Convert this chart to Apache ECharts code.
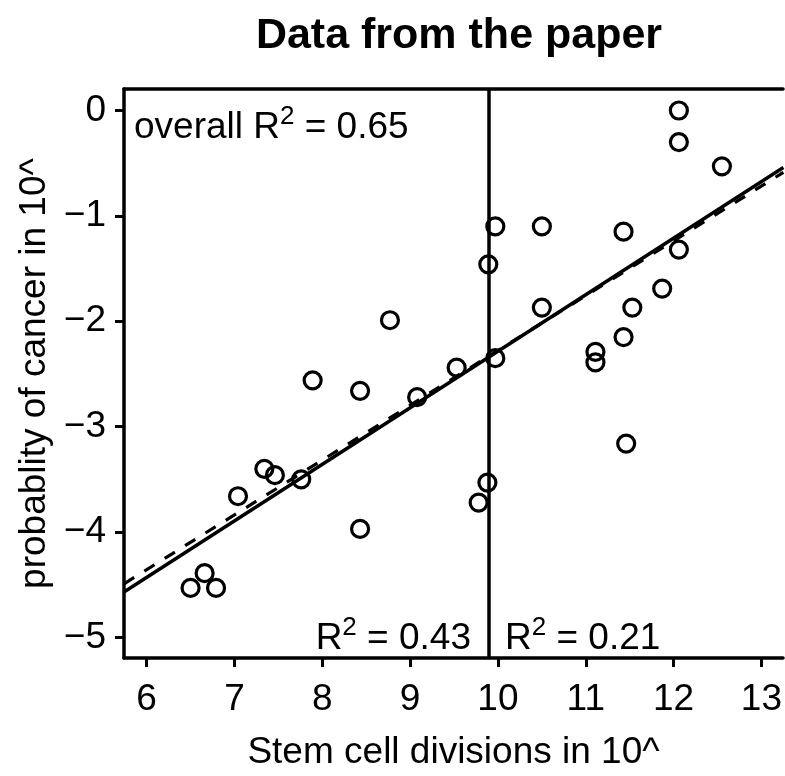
<!DOCTYPE html>
<html>
<head>
<meta charset="utf-8">
<title>Data from the paper</title>
<script src="https://cdn.jsdelivr.net/npm/echarts@6/dist/echarts.min.js"></script>
<style>
  html, body { margin: 0; padding: 0; background: #fff; }
  #chart { width: 785px; height: 776px; }
</style>
</head>
<body>
<div id="chart"></div>
<script>
// stem cell divisions (log10) and lifetime cancer risk (log10)
var divisions = [12.06, 12.06, 12.55, 9.97, 10.50, 11.43, 9.89, 12.06, 11.87, 11.53, 10.50,
  8.77, 11.43, 11.11, 11.11, 9.97, 9.53, 7.89, 8.43, 9.08, 7.34, 7.46, 7.76, 7.04, 8.43,
  11.46, 9.88, 9.78, 6.66, 6.50, 6.79];
var risk = [0.00, -0.30, -0.53, -1.10, -1.10, -1.15, -1.46, -1.32, -1.69, -1.87, -1.87,
  -1.99, -2.15, -2.29, -2.39, -2.35, -2.44, -2.56, -2.66, -2.72, -3.40, -3.46, -3.50, -3.66, -3.97,
  -3.16, -3.53, -3.72, -4.39, -4.53, -4.53];

// regression lines (end points at the plot edges)
var fitSolid = [[5.742, -4.569], [13.25, -0.541]];
var fitDashed = [[5.742, -4.491], [13.25, -0.587]];
var splitAt = 9.89;

var xTicks = [6, 7, 8, 9, 10, 11, 12, 13];
var yTicks = [-5, -4, -3, -2, -1, 0];
var r2Labels = ['0.65', '0.43', '0.21'];

var FONT = 'Liberation Sans, Arial, Helvetica, sans-serif';

var points = divisions.map(function (x, i) { return [x, risk[i]]; });

function minusSign(v) {
  return String(v).replace('-', '\u2212');
}

var r2Rich = {
  sup: { fontSize: 26, fontFamily: FONT, verticalAlign: 'top', lineHeight: 24, color: '#000' }
};

var chart = echarts.init(document.getElementById('chart'));

var option = {
  animation: false,
  backgroundColor: '#fff',
  title: {
    text: 'Data from the paper',
    left: 454,
    textAlign: 'center',
    top: 10,
    textStyle: { fontFamily: FONT, fontSize: 43, fontWeight: 'bold', color: '#000' }
  },
  grid: { left: 124, top: 89, width: 660, height: 575, show: false },
  xAxis: [
    {
      type: 'value',
      min: 5.742,
      max: 13.246,
      position: 'bottom',
      name: 'Stem cell divisions in 10^',
      nameLocation: 'middle',
      nameGap: 76,
      nameTextStyle: { fontFamily: FONT, fontSize: 37, color: '#000' },
      splitLine: { show: false },
      axisLine: { onZero: false, lineStyle: { color: '#000', width: 3.5 } },
      axisTick: { customValues: xTicks, length: 9, lineStyle: { color: '#000', width: 3 } },
      axisLabel: {
        customValues: xTicks,
        margin: 23,
        fontFamily: FONT, fontSize: 37, color: '#000'
      }
    },
    {
      type: 'value',
      min: 5.742,
      max: 13.246,
      position: 'top',
      splitLine: { show: false },
      axisLine: { onZero: false, lineStyle: { color: '#000', width: 3.5 } },
      axisTick: { show: false },
      axisLabel: { show: false }
    }
  ],
  yAxis: {
    type: 'value',
    min: -5.195,
    max: 0.204,
    name: 'probablity of cancer in 10^',
    nameLocation: 'middle',
    nameGap: 68,
    nameTextStyle: { fontFamily: FONT, fontSize: 37, color: '#000' },
    splitLine: { show: false },
    axisLine: { show: true, onZero: false, lineStyle: { color: '#000', width: 3.5 } },
    axisTick: { customValues: yTicks, length: 9, lineStyle: { color: '#000', width: 3 } },
    axisLabel: {
      customValues: yTicks,
      margin: 18,
      fontFamily: FONT, fontSize: 37, color: '#000',
      formatter: function (v) { return minusSign(v); }
    }
  },
  series: [
    {
      type: 'scatter',
      data: points,
      symbol: 'circle',
      symbolSize: 17,
      z: 2,
      itemStyle: { color: 'rgba(0,0,0,0)', borderColor: '#000', borderWidth: 3.2, opacity: 1 },
      markLine: {
        silent: true,
        symbol: 'none',
        label: { show: false },
        lineStyle: { color: '#000', width: 3.5, type: 'solid', opacity: 1 },
        data: [{ xAxis: splitAt }]
      }
    },
    {
      type: 'line',
      data: fitDashed,
      symbol: 'none',
      z: 3,
      lineStyle: { color: '#000', width: 3.2, type: [12, 12] }
    },
    {
      type: 'line',
      data: fitSolid,
      symbol: 'none',
      z: 4,
      lineStyle: { color: '#000', width: 3.5 }
    }
  ],
  graphic: [
    {
      type: 'text',
      x: 134, y: 104,
      style: {
        text: 'overall R{sup|2} = ' + r2Labels[0],
        font: '37px ' + FONT,
        lineHeight: 48,
        fill: '#000',
        verticalAlign: 'top',
        rich: r2Rich
      }
    },
    {
      type: 'text',
      x: 471, y: 615,
      style: {
        text: 'R{sup|2} = ' + r2Labels[1],
        font: '37px ' + FONT,
        lineHeight: 48,
        fill: '#000',
        align: 'right',
        verticalAlign: 'top',
        rich: r2Rich
      }
    },
    {
      type: 'text',
      x: 505, y: 615,
      style: {
        text: 'R{sup|2} = ' + r2Labels[2],
        font: '37px ' + FONT,
        lineHeight: 48,
        fill: '#000',
        align: 'left',
        verticalAlign: 'top',
        rich: r2Rich
      }
    }
  ]
};

chart.setOption(option);
</script>
</body>
</html>
